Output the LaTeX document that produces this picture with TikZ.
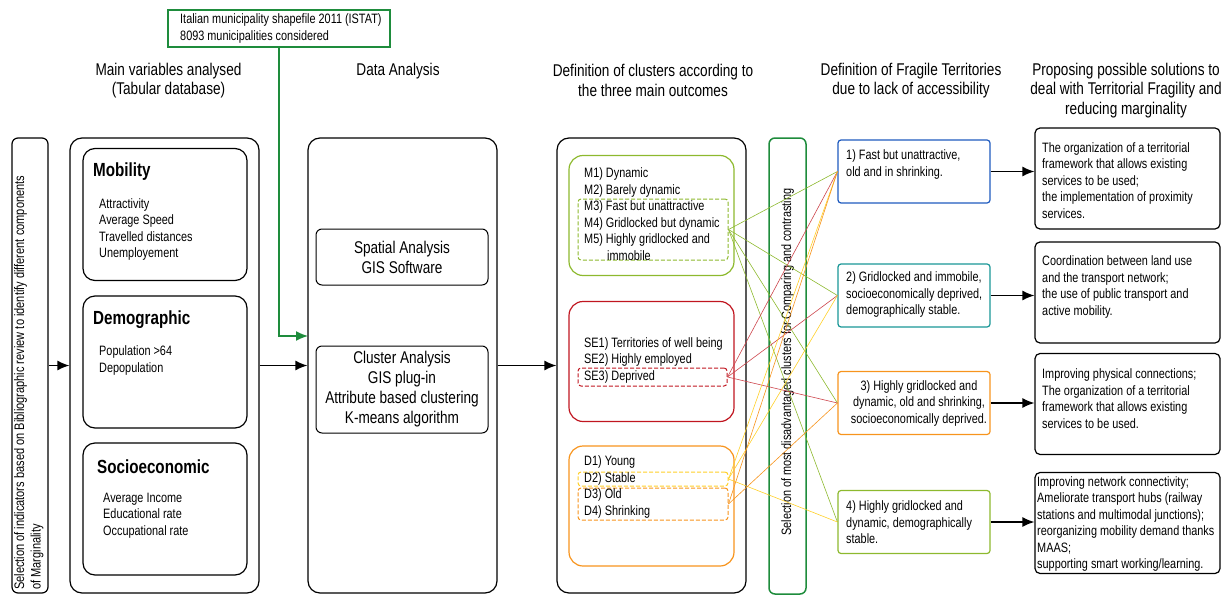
\documentclass[tikz,border=0pt]{standalone}
\usepackage{fontspec}
\setmainfont{Liberation Sans}[FakeStretch=0.8]
\usetikzlibrary{shapes,arrows,arrows.meta}

\definecolor{mgreen}{RGB}{141,185,46}
\definecolor{dred}{RGB}{192,22,32}
\definecolor{orng}{RGB}{247,148,29}
\definecolor{yell}{RGB}{255,208,40}
\definecolor{dgreen}{RGB}{30,140,60}
\definecolor{fblue}{RGB}{30,90,190}
\definecolor{fteal}{RGB}{25,150,150}

\tikzstyle{frame} = [rectangle, draw, line width=1.2pt, rounded corners=12pt,
    minimum width=189pt, minimum height=455pt, inner sep=0pt]
\tikzstyle{block} = [rectangle, draw, line width=1.2pt, rounded corners=12pt,
    minimum width=164pt, minimum height=132pt, inner sep=0pt]
\tikzstyle{tool} = [rectangle, draw, line width=1pt, rounded corners=6pt,
    minimum width=172pt, align=center, font=\fontsize{17}{20}\selectfont]
\tikzstyle{group} = [rectangle, draw, line width=1.2pt, rounded corners=14pt,
    minimum width=165pt, minimum height=120pt, inner sep=0pt]
\tikzstyle{pick} = [rectangle, draw, line width=1pt, dash pattern=on 4pt off 2pt,
    rounded corners=3pt, minimum width=150pt, inner sep=0pt]
\tikzstyle{fragile} = [rectangle, draw, line width=1.2pt, rounded corners=3pt,
    minimum width=152pt, minimum height=63pt, inner sep=0pt]
\tikzstyle{answer} = [rectangle, draw, line width=1.2pt, rounded corners=5pt,
    minimum width=185pt, minimum height=101pt, inner sep=0pt]
\tikzstyle{txt} = [align=left, inner sep=0pt, font=\fontsize{13.6}{16.5}\selectfont]
\tikzstyle{title} = [anchor=west, inner sep=0pt, font=\bfseries\fontsize{19}{22}\selectfont]
\tikzstyle{head} = [align=center, inner sep=0pt, font=\fontsize{17}{19.5}\selectfont]
\tikzstyle{line} = [draw, -{Latex[length=12pt,width=10pt]}, line width=1.4pt]
\tikzstyle{link} = [draw, line width=0.6pt]

\begin{document}
\begin{tikzpicture}[x=1pt, y=-1pt]
    \useasboundingbox (0,0) rectangle (1230,594);

    % headers
    \node[head] (h1) at (168.5,80.5) {Main variables analysed\\(Tabular database)};
    \node[head] (h2) at (398,71) {Data Analysis};
    \node[head] (h3) at (653,80.5) {Definition of clusters according to\\the three main outcomes};
    \node[head] (h4) at (911,80.5) {Definition of Fragile Territories\\due to lack of accessibility};
    \node[head] (h5) at (1126,90.5) {Proposing possible solutions to\\deal with Territorial Fragility and\\reducing marginality};

    % source data
    \node[rectangle, draw=dgreen, line width=1.5pt, minimum width=222pt, minimum height=37pt] (shp) at (279,28.5) {};
    \node[txt, anchor=west] (shptxt) at (180,28.5) {Italian municipality shapefile 2011 (ISTAT)\\8093 municipalities considered};

    % selection of indicators
    \node[rectangle, draw, line width=1.2pt, rounded corners=6pt, minimum width=36pt, minimum height=455pt] (lft) at (30,365.5) {};
    \node[txt, rotate=90, anchor=north west, font=\fontsize{13.8}{16.5}\selectfont] (lfttxt) at (14,590) {Selection of indicators based on Bibliographic review to identify different components\\of Marginality};

    % main variables
    \node[frame] (main) at (164.5,365.5) {};
    \node[block] (mob) at (165,214.5) {};
    \node[title] (mobt) at (93,172) {Mobility};
    \node[txt, anchor=west] (mobv) at (99,229.5) {Attractivity\\Average Speed\\Travelled distances\\Unemployement};
    \node[block] (dem) at (165,362) {};
    \node[title] (demt) at (93,320) {Demographic};
    \node[txt, anchor=west] (demv) at (99,360.5) {Population >64\\Depopulation};
    \node[block] (soc) at (165,509) {};
    \node[title] (soct) at (97,467) {Socioeconomic};
    \node[txt, anchor=west] (socv) at (103,515.5) {Average Income\\Educational rate\\Occupational rate};

    % data analysis
    \node[frame] (data) at (402.5,365.5) {};
    \node[tool, minimum height=56pt] (spat) at (402,257) {Spatial Analysis\\GIS Software};
    \node[tool, minimum height=87pt] (clus) at (402,389.5) {Cluster Analysis\\GIS plug-in\\Attribute based clustering\\K-means algorithm};

    % clusters
    \node[frame] (clst) at (651.5,365.5) {};
    \node[group, draw=mgreen] (mgrp) at (651.5,215.5) {};
    \node[pick, draw=mgreen, minimum height=61pt] (mpick) at (653,229.5) {};
    \node[txt, anchor=west] (mtxt) at (584,214) {M1) Dynamic\\M2) Barely dynamic\\M3) Fast but unattractive\\M4) Gridlocked but dynamic\\M5) Highly gridlocked and\\\hspace*{23pt}immobile};
    \node[group, draw=dred] (segrp) at (651.5,361.5) {};
    \node[pick, draw=dred, minimum height=18pt, minimum width=149pt] (sepick) at (652.5,377) {};
    \node[txt, anchor=west] (setxt) at (584,360) {SE1) Territories of well being\\SE2) Highly employed\\SE3) Deprived};
    \node[group, draw=orng] (dgrp) at (651.5,506) {};
    \node[pick, draw=yell, minimum height=14pt] (dpick) at (653,479) {};
    \node[pick, draw=orng, minimum height=32pt] (opick) at (653,504) {};
    \node[txt, anchor=west] (dtxt) at (584,487) {D1) Young\\D2) Stable\\D3) Old\\D4) Shrinking};

    % selection of clusters
    \node[rectangle, draw=dgreen, line width=1.5pt, rounded corners=6pt, minimum width=37pt, minimum height=456pt] (sel) at (787.5,366) {};
    \node[txt, rotate=90] (seltxt) at (787.5,362) {Selection of most disadvantaged clusters for Comparing and contrasting};

    % fragile territories
    \node[fragile, draw=fblue] (f1) at (914,171.5) {};
    \node[txt, anchor=west] (f1t) at (846,164.5) {1) Fast but unattractive,\\old and in shrinking.};
    \node[fragile, draw=fteal] (f2) at (914,295.5) {};
    \node[txt, anchor=west] (f2t) at (846,294.5) {2) Gridlocked and immobile,\\socioeconomically deprived,\\demographically stable.};
    \node[fragile, draw=orng] (f3) at (914,403) {};
    \node[txt, align=center] (f3t) at (919,403) {3) Highly gridlocked and\\dynamic, old and shrinking,\\socioeconomically deprived.};
    \node[fragile, draw=mgreen] (f4) at (914,522) {};
    \node[txt, anchor=west] (f4t) at (846,522.5) {4) Highly gridlocked and\\dynamic, demographically\\stable.};

    % solutions
    \node[answer] (s1) at (1127.5,178.5) {};
    \node[txt, anchor=west] (s1t) at (1042,180.5) {The organization of a territorial\\framework that allows existing\\services to be used;\\the implementation of proximity\\services.};
    \node[answer] (s2) at (1127.5,292.5) {};
    \node[txt, anchor=west] (s2t) at (1042,287) {Coordination between land use\\and the transport network;\\the use of public transport and\\active mobility.};
    \node[answer] (s3) at (1127.5,404) {};
    \node[txt, anchor=west] (s3t) at (1042,398.5) {Improving physical connections;\\The organization of a territorial\\framework that allows existing\\services to be used.};
    \node[answer] (s4) at (1127.5,523) {};
    \node[txt, anchor=west] (s4t) at (1037,524) {Improving network connectivity;\\Ameliorate transport hubs (railway\\stations and multimodal junctions);\\reorganizing mobility demand thanks\\MAAS;\\supporting smart working/learning.};

    % flow
    \coordinate (gin) at (308,336);
    \path[line, dgreen, line width=1.5pt] (shp.south) |- (gin);
    \path[line] (lft.east) -- (main.west);
    \path[line] (main.east) -- (data.west);
    \path[line] (data.east) -- (clst.west);
    \path[line] (f1.east) -- (f1.east -| s1.west);
    \path[line] (f2.east) -- (f2.east -| s2.west);
    \path[line] (f3.east) -- (f3.east -| s3.west);
    \path[line] (f4.east) -- (f4.east -| s4.west);

    % cluster links
    \path[link, mgreen] (mpick.east) -- (f1.west);
    \path[link, mgreen] (mpick.east) -- (f2.west);
    \path[link, mgreen] (mpick.east) -- (f3.west);
    \path[link, mgreen] (mpick.east) -- (f4.west);
    \path[link, dred!80] (sepick.east) -- (f1.west);
    \path[link, dred!80] (sepick.east) -- (f2.west);
    \path[link, dred!80] (sepick.east) -- (f3.west);
    \path[link, yell] (dpick.east) -- (f1.west);
    \path[link, yell] (dpick.east) -- (f2.west);
    \path[link, yell] (dpick.east) -- (f4.west);
    \path[link, orng] (opick.east) -- (f1.west);
    \path[link, orng] (opick.east) -- (f3.west);
\end{tikzpicture}
\end{document}
